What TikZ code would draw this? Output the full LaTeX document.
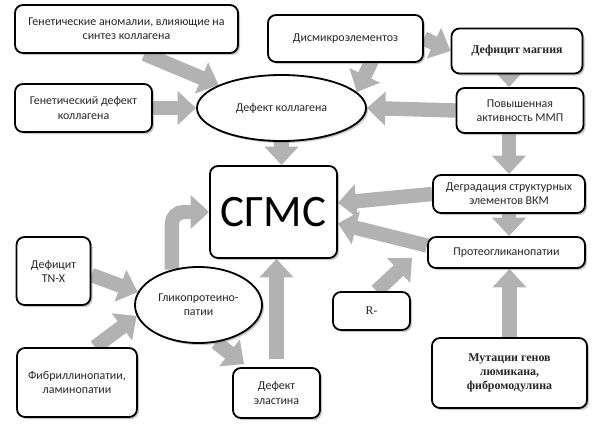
\documentclass[tikz,border=0pt]{standalone}
\usepackage{fontspec}
\setmainfont{Carlito}
\newfontfamily\cambr{Liberation Serif}
\usepackage{tikz}
\usetikzlibrary{arrows.meta,positioning,shapes,calc,shadows,backgrounds}

\begin{document}
\begin{tikzpicture}[x=0.25mm, y=-0.25mm,
  box/.style={draw, line width=1.3pt, rounded corners=2mm, fill=white, align=center, text=black!85,
    font=\fontsize{8.5}{10}\selectfont,
    drop shadow={shadow xshift=0.5mm, shadow yshift=-0.5mm, fill=black!50, opacity=0.45}},
  oval/.style={box, ellipse, rounded corners=0pt},
  flow/.style={line width=3.6mm, black!30, -{Triangle[length=4.6mm, width=8.2mm]}}]

\useasboundingbox (0,0) rectangle (593,423);

% Causes of collagen defect
\node[box, minimum width=55.75mm, minimum height=12mm] (gen1) at (126.5,29) {Генетические аномалии, влияющие на\\синтез коллагена};
\node[box, minimum width=34.25mm, minimum height=12mm] (gen2) at (83.5,108) {Генетический дефект\\коллагена};
\node[oval, minimum width=42.25mm, minimum height=16.5mm] (defcol) at (281.5,108) {Дефект коллагена};
\node[box, minimum width=38.75mm, minimum height=11.75mm] (dism) at (345.5,38.5) {Дисмикроэлементоз};
\node[box, minimum width=32.75mm, minimum height=11.25mm, font=\cambr\bfseries\fontsize{8.5}{10}\selectfont] (mg) at (517,51) {Дефицит магния};
\node[box, minimum width=31.75mm, minimum height=11.25mm] (mmp) at (520,110.5) {Повышенная\\активность ММП};

% Central node
\node[box, minimum width=31.75mm, minimum height=23mm, font=\fontsize{32}{36}\selectfont, text=black] (sgms) at (273.5,212) {СГМС};

% Right column
\node[box, minimum width=38mm, minimum height=9.5mm] (deg) at (509,194) {Деградация структурных\\элементов ВКМ};
\node[box, minimum width=39.25mm, minimum height=7.75mm] (prot) at (506.5,252.5) {Протеогликанопатии};
\node[box, minimum width=19.25mm, minimum height=9.5mm, font=\cambr\fontsize{8.5}{10}\selectfont] (rr) at (371.5,311) {R-};
\node[box, minimum width=38.75mm, minimum height=17.5mm, font=\cambr\bfseries\fontsize{8.5}{10}\selectfont] (mut) at (509.5,373) {Мутации генов\\люмикана,\\фибромодулина};

% Glycoproteinopathies
\node[box, minimum width=18.5mm, minimum height=17mm] (tnx) at (53.5,271) {Дефицит\\TN-X};
\node[oval, minimum width=31.75mm, minimum height=19mm] (glyc) at (198.5,305) {Гликопротеино-\\патии};
\node[box, minimum width=30mm, minimum height=17.25mm] (fib) at (77,382.5) {Фибриллинопатии,\\ламинопатии};
\node[box, minimum width=21.75mm, minimum height=12.5mm] (ela) at (276.5,393) {Дефект\\эластина};

% Arrows
\begin{scope}[on background layer]
\draw[flow] ($(gen1.south)+(18,0)$) -- (defcol.160);
\draw[flow] (gen2.east) -- (defcol.west);
\draw[flow] ($(dism.south)+(30,-10)$) -- (defcol.12);
\draw[flow] (dism.east) -- (mg.west);
\draw[flow] (mg.south -| deg.north) -- (mmp.north -| deg.north);
\draw[flow] (mmp.west) -- (defcol.east);
\draw[flow] (mmp.south -| deg.north) -- (deg.north);
\draw[flow] (defcol.south) -- (defcol.south |- sgms.north);
\draw[flow] (deg.west) -- (sgms.8);
\draw[flow] (deg.south) -- (deg.south |- prot.north);
\draw[flow] (prot.175) -- (sgms.-10);
\draw[flow] ($(rr.north)+(5,0)$) -- ($(prot.south west)+(-15,-11)$);
\draw[flow] (mut.north) -- (mut.north |- prot.south);
\draw[flow] ($(tnx.east)+(0,4)$) -- (glyc.168);
\draw[flow] ($(fib.north)+(18,0)$) -- (glyc.190);
\draw[flow] (glyc.-65) -- ($(ela.north west)+(12,-3)$);
\draw[flow, rounded corners=3mm] (glyc.127) |- (sgms.west);
\draw[flow] ($(ela.north)+(0,-8)$) -- (ela.north |- sgms.south);
\end{scope}

\end{tikzpicture}
\end{document}
